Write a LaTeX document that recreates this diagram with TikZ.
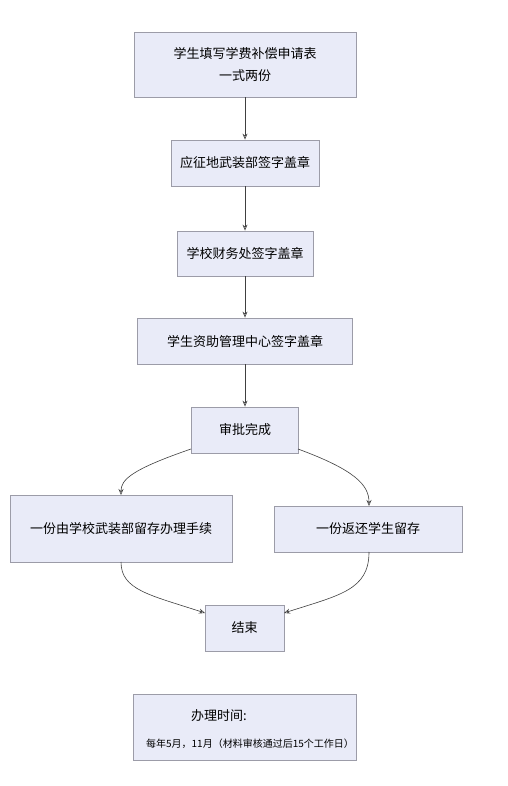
\documentclass[tikz,border=0pt]{standalone}
\usepackage{fontspec}
\setmainfont{Noto Sans CJK SC}
\usetikzlibrary{arrows.meta}
\definecolor{boxfill}{HTML}{E9EBF8}
\definecolor{boxline}{HTML}{9C9CA8}
\definecolor{arr}{HTML}{404040}
\tikzset{
  box/.style={draw=boxline, fill=boxfill, line width=0.8pt, inner sep=0pt, font=\fontsize{13}{22}\selectfont, align=center},
  conn/.style={draw=arr, line width=0.6pt, -{Stealth[length=6pt,width=5pt,open]}},
}
\begin{document}
\begin{tikzpicture}[x=1pt,y=-1pt]
\useasboundingbox[fill=white] (0,0) rectangle (507,786);
\node[box, minimum width=222pt, minimum height=65pt] (b1) at (245,64.5) {学生填写学费补偿申请表\\一式两份};
\node[box, minimum width=148pt, minimum height=46pt] (b2) at (245,163) {应征地武装部签字盖章};
\node[box, minimum width=136pt, minimum height=45pt] (b3) at (245,253.5) {学校财务处签字盖章};
\node[box, minimum width=215pt, minimum height=46pt] (b4) at (245,341) {学生资助管理中心签字盖章};
\node[box, minimum width=107pt, minimum height=46pt] (b5) at (245,430) {审批完成};
\node[box, minimum width=222pt, minimum height=67pt] (l) at (121,528.5) {一份由学校武装部留存办理手续};
\node[box, minimum width=188pt, minimum height=46pt] (r) at (368,529) {一份返还学生留存};
\node[box, minimum width=79pt, minimum height=46pt] (e) at (244.5,628) {结束};
\node[box, minimum width=223pt, minimum height=66pt] (info) at (244.5,727) {};
\node[font=\fontsize{13}{14}\selectfont] (t1) at (219,716) {办理时间:};
\node[font=\fontsize{10}{12}\selectfont] (t2) at (250,744) {每年5月，11月（材料审核通过后15个工作日）};
\draw[conn] (b1.south) -- (b2.north);
\draw[conn] (b2.south) -- (b3.north);
\draw[conn] (b3.south) -- (b4.north);
\draw[conn] (b4.south) -- (b5.north);
\coordinate (b5l) at (191,449);
\coordinate (b5r) at (298,449);
\coordinate (ltop) at (121,495);
\coordinate (rtop) at (369,506);
\draw[conn] (b5l) .. controls (130,470) and (121,480) .. (ltop);
\draw[conn] (b5r) .. controls (355,470) and (369,485) .. (rtop);
\coordinate (lbot) at (121,562);
\coordinate (rbot) at (369,552);
\coordinate (eleft) at (205,613);
\coordinate (eright) at (284,613);
\draw[conn] (lbot) .. controls (121,590) and (150,595) .. (eleft);
\draw[conn] (rbot) .. controls (369,590) and (340,595) .. (eright);
\end{tikzpicture}
\end{document}
